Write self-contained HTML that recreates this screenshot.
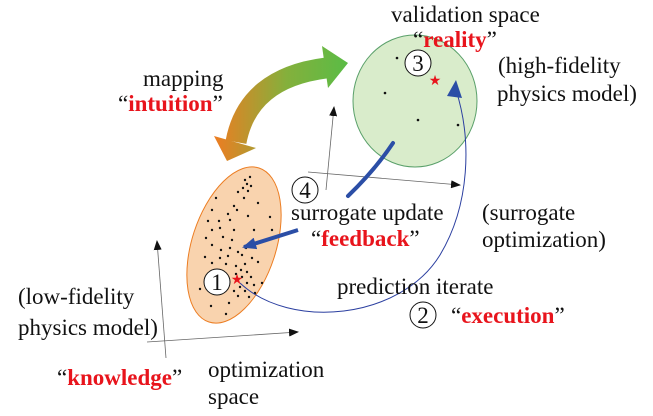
<!DOCTYPE html>
<html><head><meta charset="utf-8"><style>
body{margin:0;background:#fff}
svg text{font-family:"Liberation Serif",serif;font-size:23px;fill:#111}
.r{fill:#e8141c;font-weight:bold}
</style></head><body>
<svg width="653" height="411" viewBox="0 0 653 411" xmlns="http://www.w3.org/2000/svg">
<defs>
<linearGradient id="g" x1="215" y1="0" x2="345" y2="0" gradientUnits="userSpaceOnUse">
<stop offset="0" stop-color="#ec7d22"/><stop offset="0.55" stop-color="#84b03c"/><stop offset="1" stop-color="#5cbb45"/></linearGradient>
<marker id="ah" markerWidth="10" markerHeight="8" refX="9" refY="4" orient="auto" markerUnits="userSpaceOnUse"><path d="M0,0 L10,4 L0,8 Z" fill="#111"/></marker>
<marker id="bh" markerWidth="14" markerHeight="12" refX="12" refY="6" orient="auto" markerUnits="userSpaceOnUse"><path d="M0,0 L14,6 L0,12 Z" fill="#2b4ea6"/></marker>
</defs>
<line x1="166" y1="358" x2="157" y2="241" stroke="#666" stroke-width="0.8" marker-end="url(#ah)"/>
<line x1="147" y1="342" x2="298" y2="332" stroke="#666" stroke-width="0.8" marker-end="url(#ah)"/>
<line x1="326" y1="190" x2="334" y2="107" stroke="#666" stroke-width="0.8" marker-end="url(#ah)"/>
<line x1="308" y1="172" x2="460" y2="185" stroke="#666" stroke-width="0.8" marker-end="url(#ah)"/>
<ellipse cx="415" cy="101" rx="62" ry="66" fill="#d9eccb" stroke="#5aa06a" stroke-width="1"/>
<g fill="#111"><circle cx="397" cy="58" r="1.3"/><circle cx="385" cy="93" r="1.3"/><circle cx="418" cy="120" r="1.3"/><circle cx="458" cy="125" r="1.3"/></g>
<text x="435" y="85" style="fill:#e8141c;font-size:14px" text-anchor="middle">★</text>
<circle cx="418" cy="63" r="13" fill="#fff" stroke="#111"/>
<text x="418" y="71" text-anchor="middle">3</text>
<ellipse cx="234" cy="245" rx="42" ry="81" transform="rotate(18 234 245)" fill="#f9d3ae" stroke="#ec7d22" stroke-width="1"/>
<g fill="#111">
<circle cx="250" cy="177" r="1.2"/><circle cx="245" cy="180" r="1.2"/><circle cx="247" cy="184" r="1.2"/><circle cx="251" cy="186" r="1.2"/><circle cx="243" cy="188" r="1.2"/><circle cx="248" cy="191" r="1.2"/><circle cx="244" cy="198" r="1.2"/><circle cx="238" cy="192" r="1.2"/><circle cx="234" cy="206" r="1.2"/><circle cx="216" cy="198" r="1.2"/><circle cx="258" cy="203" r="1.2"/><circle cx="237" cy="210" r="1.2"/><circle cx="212" cy="210" r="1.2"/><circle cx="228" cy="214" r="1.2"/><circle cx="230" cy="220" r="1.2"/><circle cx="219" cy="221" r="1.2"/><circle cx="208" cy="221" r="1.2"/><circle cx="220" cy="228" r="1.2"/><circle cx="248" cy="216" r="1.2"/><circle cx="270" cy="217" r="1.2"/><circle cx="212" cy="230" r="1.2"/><circle cx="234" cy="230" r="1.2"/><circle cx="254" cy="230" r="1.2"/><circle cx="272" cy="230" r="1.2"/><circle cx="206" cy="238" r="1.2"/><circle cx="223" cy="237" r="1.2"/><circle cx="232" cy="240" r="1.2"/><circle cx="212" cy="245" r="1.2"/><circle cx="230" cy="248" r="1.2"/><circle cx="238" cy="252" r="1.2"/><circle cx="246" cy="248" r="1.2"/><circle cx="221" cy="250" r="1.2"/><circle cx="205" cy="257" r="1.2"/><circle cx="220" cy="258" r="1.2"/><circle cx="228" cy="256" r="1.2"/><circle cx="242" cy="255" r="1.2"/><circle cx="252" cy="258" r="1.2"/><circle cx="258" cy="262" r="1.2"/><circle cx="245" cy="264" r="1.2"/><circle cx="236" cy="266" r="1.2"/><circle cx="212" cy="263" r="1.2"/><circle cx="226" cy="264" r="1.2"/><circle cx="241" cy="270" r="1.2"/><circle cx="247" cy="272" r="1.2"/><circle cx="236" cy="274" r="1.2"/><circle cx="242" cy="277" r="1.2"/><circle cx="251" cy="277" r="1.2"/><circle cx="247" cy="283" r="1.2"/><circle cx="254" cy="285" r="1.2"/><circle cx="240" cy="287" r="1.2"/><circle cx="245" cy="291" r="1.2"/><circle cx="234" cy="291" r="1.2"/><circle cx="255" cy="293" r="1.2"/><circle cx="238" cy="296" r="1.2"/><circle cx="249" cy="297" r="1.2"/><circle cx="229" cy="303" r="1.2"/><circle cx="211" cy="306" r="1.2"/><circle cx="226" cy="314" r="1.2"/><circle cx="200" cy="289" r="1.2"/><circle cx="262" cy="283" r="1.2"/>
</g>
<path d="M240,283 C 290,330 400,320 440,255 C 470,205 472,140 456,90" fill="none" stroke="#2b3fa0" stroke-width="1"/>
<path d="M447,96 L456,80 L462,98 Z" fill="#2b4ea6"/>
<text x="237" y="284" style="fill:#e8141c;font-size:14px" text-anchor="middle">★</text>
<circle cx="217" cy="282" r="13" fill="#fff" stroke="#111"/>
<text x="217" y="290" text-anchor="middle">1</text>
<path d="M393,143 Q375,170 348,196" fill="none" stroke="#2b4ea6" stroke-width="4" stroke-linecap="round"/>
<line x1="298" y1="230" x2="244" y2="247" stroke="#2b4ea6" stroke-width="4" marker-end="url(#bh)"/>
<path d="M236,142 Q248,78 326,68" fill="none" stroke="url(#g)" stroke-width="21"/>
<path d="M322,46 L348,63 L328,88 Z" fill="url(#g)"/>
<path d="M214,136 L227,161 L256,148 Z" fill="url(#g)"/>
<text x="391" y="22">validation space</text>
<text x="413" y="47">“<tspan class="r">reality</tspan>”</text>
<text x="498" y="73">(high-fidelity</text>
<text x="497" y="101">physics model)</text>
<text x="143" y="86">mapping</text>
<text x="118" y="111">“<tspan class="r">intuition</tspan>”</text>
<circle cx="305" cy="190" r="13" fill="#fff" stroke="#111"/>
<text x="305" y="198" text-anchor="middle">4</text>
<text x="291" y="220">surrogate update</text>
<text x="311" y="246">“<tspan class="r">feedback</tspan>”</text>
<text x="482" y="220">(surrogate</text>
<text x="482" y="247">optimization)</text>
<text x="337" y="294">prediction iterate</text>
<circle cx="423" cy="315" r="13" fill="#fff" stroke="#111"/>
<text x="423" y="323" text-anchor="middle">2</text>
<text x="451" y="323">“<tspan class="r">execution</tspan>”</text>
<text x="18" y="304">(low-fidelity</text>
<text x="18" y="335">physics model)</text>
<text x="57" y="385">“<tspan class="r">knowledge</tspan>”</text>
<text x="208" y="377">optimization</text>
<text x="208" y="404">space</text>
</svg>
</body></html>
